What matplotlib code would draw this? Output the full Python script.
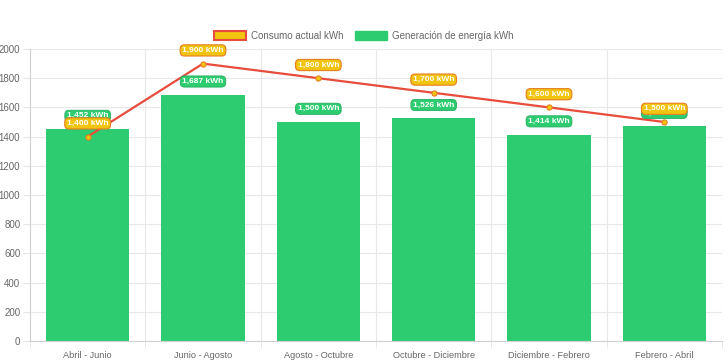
import matplotlib
matplotlib.use("Agg")
import matplotlib.pyplot as plt
import numpy as np

categories = ["Abril - Junio", "Junio - Agosto", "Agosto - Octubre",
              "Octubre - Diciembre", "Diciembre - Febrero", "Febrero - Abril"]
generacion = [1452, 1687, 1500, 1526, 1414, 1472]
consumo = [1400, 1900, 1800, 1700, 1600, 1500]
yticks = list(range(0, 2001, 200))

plt.rcParams['font.family'] = ['Liberation Sans', 'DejaVu Sans']

green = '#2ecc71'
red = '#e74c3c'
orange = '#f1c40f'

fig = plt.figure(figsize=(7.28, 3.63), dpi=100)
ax = fig.add_axes([30/728, 1-341/363, 692/728, 292/363])

x = np.arange(len(categories))
ax.bar(x, generacion, width=0.72, color=green, zorder=2, label='Generación de energía kWh')
ax.plot(x, consumo, color=red, lw=1.6, zorder=3)
ax.scatter(x, consumo, s=14, color=orange, edgecolor='#e67e22', lw=0.8, zorder=4)

ax.set_xlim(-0.5, len(categories) - 0.5)
ax.set_ylim(0, 2000)
ax.set_yticks(yticks)
ax.set_yticklabels([str(v) for v in yticks], fontsize=7, color='#666666')
ax.set_xticks(x)
ax.set_xticklabels(categories, fontsize=6.6, color='#666666')
ax.set_xticks(np.arange(-0.5, len(categories)), minor=True)
ax.tick_params(axis='x', which='major', length=0, pad=7)
ax.tick_params(axis='x', which='minor', length=5, color='#e5e5e5')
ax.tick_params(axis='y', length=5, color='#e5e5e5', pad=2)
ax.grid(axis='y', color='#e8e8e8', lw=0.8, zorder=0)
ax.grid(axis='x', which='minor', color='#e8e8e8', lw=0.8, zorder=0)
for s in ['top', 'right']:
    ax.spines[s].set_visible(False)
for s in ['left', 'bottom']:
    ax.spines[s].set_color('#d0d0d0')

for xi, v in zip(x, generacion):
    ax.annotate(f"{v:,} kWh", (xi, v), xytext=(0, 9.5), textcoords='offset points',
                ha='center', va='center', fontsize=6, fontweight='bold', color='white',
                bbox=dict(boxstyle='round,pad=0.25,rounding_size=0.5', fc=green, ec='#27ae60', lw=0.6),
                zorder=5)
for xi, v in zip(x, consumo):
    ax.annotate(f"{v:,} kWh", (xi, v), xytext=(0, 9.5), textcoords='offset points',
                ha='center', va='center', fontsize=6, fontweight='bold', color='white',
                bbox=dict(boxstyle='round,pad=0.25,rounding_size=0.5', fc=orange, ec='#e67e22', lw=0.8),
                zorder=6)

from matplotlib.patches import Patch
handles = [Patch(fc=orange, ec=red, lw=1.5, label='Consumo actual kWh'),
           Patch(fc=green, ec=green, label='Generación de energía kWh')]
fig.legend(handles=handles, loc='center', bbox_to_anchor=(0.5, 1-36/363), ncol=2,
           frameon=False, fontsize=7, handlelength=3.3, handleheight=1.0,
           columnspacing=1.2, handletextpad=0.5, labelcolor='#666666')

fig.savefig('out.png', dpi=100)
